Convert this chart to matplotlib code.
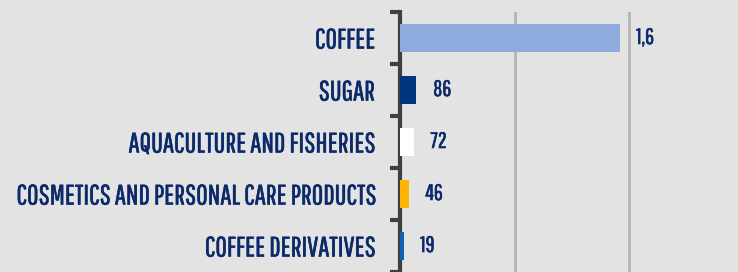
import matplotlib.pyplot as plt
import matplotlib.patheffects as pe

categorias = ['COFFEE', 'SUGAR', 'AQUACULTURE AND FISHERIES',
              'COSMETICS AND PERSONAL CARE PRODUCTS', 'COFFEE DERIVATIVES']
valores = [1150, 86, 72, 46, 19]
etiquetas = ['1,6', '86', '72', '46', '19']
colores = ['#8faadc', '#003580', '#ffffff', '#ffb400', '#0d63b0']

# Fuente condensada (si no existe, pasa a la siguiente)
plt.rcParams['font.family'] = ['Pathway Gothic One', 'Fira Sans Extra Condensed', 'DejaVu Sans']

fondo = '#e3e3e3'
azul = '#0c2a6a'
grueso = [pe.withStroke(linewidth=0.4, foreground=azul)]  # un poco mas de peso al texto

fig = plt.figure(figsize=(7.38, 2.72), dpi=100, facecolor=fondo)
ax = fig.add_axes([400 / 738, 0, 338 / 738, 260 / 272], facecolor=fondo)

pos = list(range(len(categorias)))
ax.barh(pos, valores, height=0.52, color=colores, zorder=3)

# Etiquetas de valor
for p, v, t in zip(pos, valores, etiquetas):
    ax.annotate(t, (v, p), xytext=(12, 0), textcoords='offset points',
                va='center', ha='left', fontsize=16, color=azul, zorder=4,
                path_effects=grueso)

ax.set_ylim(4.5, -0.5)
ax.set_xlim(0, 1770)

# Grid vertical
ax.set_xticks([600, 1200])
ax.tick_params(axis='x', length=0, labelbottom=False)
ax.grid(axis='x', color='#b4b4b4', linewidth=2, zorder=1)

# Nombres de categorias
ax.set_yticks(pos)
ax.set_yticklabels(categorias, fontsize=20.2, color=azul, path_effects=grueso)
ax.tick_params(axis='y', which='major', length=0, pad=18)
ax.set_yticks([-0.5, 0.5, 1.5, 2.5, 3.5, 4.5], minor=True)
ax.tick_params(axis='y', which='minor', length=7, width=3, color='#404040')

for lado in ['top', 'right', 'bottom']:
    ax.spines[lado].set_visible(False)
ax.spines['left'].set_color('#404040')
ax.spines['left'].set_linewidth(3)

fig.savefig('out.png', dpi=100, facecolor=fondo)
